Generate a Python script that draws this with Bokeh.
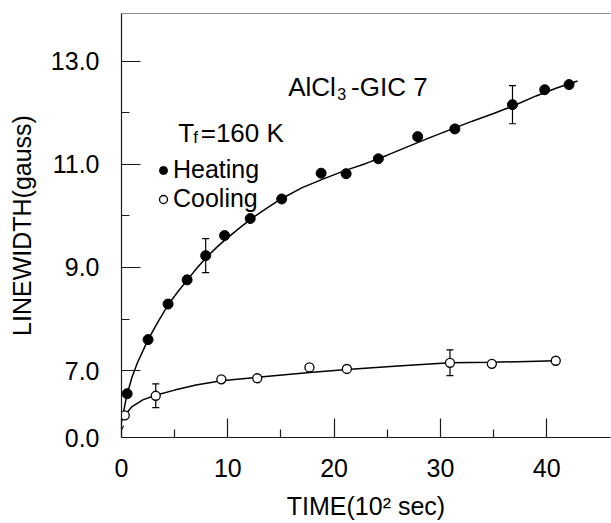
from bokeh.plotting import figure
from bokeh.models import (Range1d, FixedTicker, ColumnDataSource, Whisker, TeeHead,
                          Label, Legend, LegendItem, Span, Arrow)
from bokeh.embed import file_html
from bokeh.resources import INLINE

FONT = "Liberation Sans"

# ---------------- data ----------------
heat_x = [0.53, 2.5, 4.38, 6.17, 7.92, 9.7, 12.11, 15.07, 18.78, 21.13, 24.16, 27.86, 31.36, 36.78, 39.81, 42.1]
heat_y = [6.55, 7.60, 8.29, 8.76, 9.23, 9.62, 9.95, 10.33, 10.83, 10.82, 11.11, 11.54, 11.69, 12.16, 12.45, 12.55]

cool_x = [0.31, 3.22, 9.39, 12.77, 17.68, 21.2, 30.9, 34.84, 40.85]
cool_y = [6.13, 6.51, 6.83, 6.85, 7.06, 7.03, 7.15, 7.13, 7.19]

# fitted curves as drawn
heat_curve_x = [0.0, 0.5, 1.0, 1.5, 2.5, 3.5, 4.4, 5.3, 6.2, 7.1, 8.0, 9.0, 10.0, 11.0, 12.1, 13.5,
                15.0, 17.0, 19.0, 21.0, 23.0, 25.0, 27.0, 29.0, 31.0, 33.0, 35.0, 37.0, 39.0, 41.0, 42.9]
heat_curve_y = [6.0, 6.52, 6.88, 7.15, 7.6, 7.97, 8.28, 8.53, 8.76, 8.99, 9.2, 9.4, 9.58, 9.75, 9.93, 10.13,
                10.33, 10.55, 10.72, 10.88, 11.02, 11.18, 11.35, 11.52, 11.68, 11.84, 11.99, 12.15, 12.33, 12.49, 12.62]

cool_curve_x = [0.31, 1.0, 2.0, 3.2, 5.0, 7.0, 9.4, 12.8, 17.7, 21.2, 26.0, 30.9, 34.8, 40.85]
cool_curve_y = [6.13, 6.3, 6.43, 6.52, 6.62, 6.72, 6.8, 6.87, 6.96, 7.02, 7.09, 7.15, 7.16, 7.19]

# error bars
heat_err_x = [7.92, 36.78]
heat_err_y = [9.23, 12.16]
heat_err = [0.33, 0.37]
cool_err_x = [3.22, 30.9]
cool_err_y = [6.51, 7.15]
cool_err = [0.23, 0.25]

# axes
x_ticks = [0, 10, 20, 30, 40]
x_tick_labels = ["0", "10", "20", "30", "40"]
x_minor = [5, 15, 25, 35]
y_ticks = [5.7, 7, 9, 11, 13]
y_tick_labels = ["0.0", "7.0", "9.0", "11.0", "13.0"]
y_minor = [8, 10, 12]

X_MIN, X_MAX = 0, 46
Y_MIN, Y_MAX = 5.7, 13.93

# ---------------- figure ----------------
p = figure(width=611, height=523, x_range=Range1d(X_MIN, X_MAX), y_range=Range1d(Y_MIN, Y_MAX),
           output_backend="svg", toolbar_location=None,
           min_border_left=121, min_border_right=1, min_border_top=13, min_border_bottom=86)
p.grid.visible = False
p.outline_line_color = None
p.background_fill_color = "white"
p.border_fill_color = "white"

AX = "#1a1a1a"
for ax in (p.xaxis[0], p.yaxis[0]):
    ax.axis_line_color = AX
    ax.axis_line_width = 1.2
    ax.major_tick_line_color = AX
    ax.minor_tick_line_color = AX
    ax.major_tick_line_width = 1.2
    ax.minor_tick_line_width = 1.2
    ax.major_tick_in = 19
    ax.major_tick_out = 0
    ax.minor_tick_in = 8
    ax.minor_tick_out = 0
    ax.major_label_text_font = FONT
    ax.major_label_text_font_size = "25px"
    ax.major_label_text_color = "black"
    ax.axis_label_text_font = FONT
    ax.axis_label_text_font_size = "25px"
    ax.axis_label_text_font_style = "normal"
    ax.axis_label_text_color = "black"

p.xaxis.ticker = FixedTicker(ticks=x_ticks, minor_ticks=x_minor)
p.xaxis.major_label_overrides = {t: s for t, s in zip(x_ticks, x_tick_labels)}
p.xaxis.major_label_standoff = 21
p.xaxis.axis_label = "TIME(10² sec)"
p.xaxis.axis_label_standoff = 12

p.yaxis.ticker = FixedTicker(ticks=y_ticks, minor_ticks=y_minor)
p.yaxis.major_label_overrides = {t: s for t, s in zip(y_ticks, y_tick_labels)}
p.yaxis.major_label_standoff = 22
p.yaxis.axis_label = "LINEWIDTH(gauss)"
p.yaxis.axis_label_standoff = 12

# top frame line
p.add_layout(Span(location=Y_MAX, dimension="width", line_color=AX, line_width=1.2))

# axis break mark
p.add_layout(Arrow(end=None, x_start=-0.35, y_start=5.70, x_end=0.2, y_end=5.93,
                   line_color=AX, line_width=1.2))

# curves
p.line(heat_curve_x, heat_curve_y, line_color="black", line_width=1.5)
p.line(cool_curve_x, cool_curve_y, line_color="black", line_width=1.5)

# error bars
for ex, ey, ee in ((heat_err_x, heat_err_y, heat_err), (cool_err_x, cool_err_y, cool_err)):
    src = ColumnDataSource(dict(x=ex, lower=[a - b for a, b in zip(ey, ee)],
                                upper=[a + b for a, b in zip(ey, ee)]))
    p.add_layout(Whisker(source=src, base="x", lower="lower", upper="upper", dimension="height",
                         line_color="black", line_width=1.2,
                         lower_head=TeeHead(size=7, line_color="black", line_width=1.2),
                         upper_head=TeeHead(size=7, line_color="black", line_width=1.2)))

heat_r = p.scatter(heat_x, heat_y, marker="circle", size=10, fill_color="black",
                   line_color="black", line_width=1)
cool_r = p.scatter(cool_x, cool_y, marker="circle", size=9, fill_color="white",
                   line_color="black", line_width=1.3)

legend = Legend(items=[LegendItem(label="Heating", renderers=[heat_r]),
                       LegendItem(label="Cooling", renderers=[cool_r])],
                location=(32, 224), padding=0, margin=0, spacing=-3,
                glyph_width=20, glyph_height=20, label_standoff=0,
                label_text_font=FONT, label_text_font_size="25px", label_text_color="black",
                background_fill_alpha=0, border_line_alpha=0)
p.add_layout(legend)

# annotations
def lab(x, y, text, size):
    p.add_layout(Label(x=x, y=y, text=text, text_font=FONT, text_font_size=size,
                       text_baseline="alphabetic", text_align="left", text_color="black"))

lab(15.68, 12.495, "AlCl", "26px")
lab(20.3, 12.36, "3", "16px")
lab(21.6, 12.495, "-GIC 7", "26px")
lab(5.35, 11.62, "T", "26px")
lab(6.75, 11.53, "f", "17px")
lab(7.45, 11.62, "=160 K", "26px")

open("out.html", "w").write(file_html(p, INLINE))
